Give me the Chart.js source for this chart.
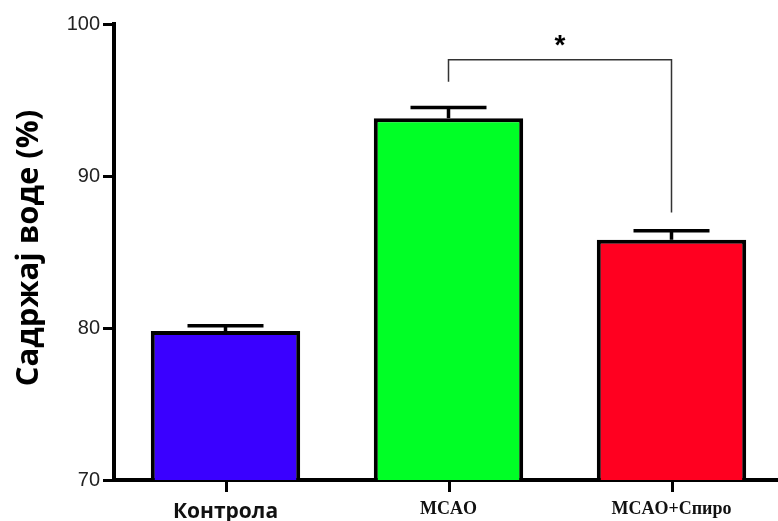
<!DOCTYPE html>
<html>
<head>
<meta charset="utf-8">
<script src="https://cdn.jsdelivr.net/npm/chart.js@4"></script>
<style>
  html, body { margin: 0; padding: 0; background: #fff; overflow: hidden; }
  #wrap { position: relative; width: 783px; height: 521px; }
</style>
</head>
<body>
<div id="wrap"><canvas id="c" width="783" height="521"></canvas></div>
<script>
// ---- data ----
const categories = ['Контрола', 'MCAO', 'MCAO+Спиро'];
const meanValues = [79.8, 93.8, 85.8];
const errorTops = [80.15, 94.5, 86.4];
const barColors = ['#3a00ff', '#00ff26', '#ff0020'];
const yTicks = [70, 80, 90, 100];
const yTitle = 'Садржај воде (%)';
// significance bracket: [fromIndex, toIndex], values [leftEnd, bar level, rightEnd]
const bracketIdx = [1, 2];
const bracketVals = [96.2, 97.65, 87.6];
const starValue = 98.85;
const starText = '*';

const overlay = {
  id: 'overlay',
  afterDatasetsDraw(chart) {
    const ctx = chart.ctx;
    const x = chart.scales.x, y = chart.scales.y;
    ctx.save();
    // x-axis tick marks at category centres
    ctx.strokeStyle = '#000';
    ctx.lineWidth = 3;
    categories.forEach((c, i) => {
      const cx = Math.round(x.getPixelForValue(i)) + 0.5;
      ctx.beginPath();
      ctx.moveTo(cx, chart.chartArea.bottom);
      ctx.lineTo(cx, chart.chartArea.bottom + 12);
      ctx.stroke();
    });
    // error bars
    ctx.lineWidth = 3.5;
    ctx.lineCap = 'butt';
    errorTops.forEach((v, i) => {
      const cx = x.getPixelForValue(i);
      const yb = y.getPixelForValue(meanValues[i]);
      const yt = y.getPixelForValue(v);
      ctx.beginPath();
      ctx.moveTo(cx, yb); ctx.lineTo(cx, yt);
      ctx.moveTo(cx - 38, yt); ctx.lineTo(cx + 38, yt);
      ctx.stroke();
    });
    // bracket
    const xl = x.getPixelForValue(bracketIdx[0]);
    const xr = x.getPixelForValue(bracketIdx[1]);
    ctx.strokeStyle = '#333';
    ctx.lineWidth = 1.5;
    ctx.beginPath();
    ctx.moveTo(xl, y.getPixelForValue(bracketVals[0]));
    ctx.lineTo(xl, y.getPixelForValue(bracketVals[1]));
    ctx.lineTo(xr, y.getPixelForValue(bracketVals[1]));
    ctx.lineTo(xr, y.getPixelForValue(bracketVals[2]));
    ctx.stroke();
    ctx.fillStyle = '#000';
    ctx.font = 'bold 28px "Liberation Sans"';
    ctx.textAlign = 'center';
    ctx.textBaseline = 'middle';
    ctx.fillText(starText, (xl + xr) / 2, y.getPixelForValue(starValue) + 5);
    // y title
    ctx.translate(29, 248);
    ctx.rotate(-Math.PI / 2);
    ctx.font = 'bold 31px "Open Sans"';
    ctx.fillStyle = '#000';
    ctx.fillText(yTitle, 0, 0);
    ctx.restore();
  }
};

new Chart(document.getElementById('c'), {
  type: 'bar',
  data: {
    labels: categories,
    datasets: [{
      data: meanValues,
      backgroundColor: barColors,
      borderColor: '#000',
      borderWidth: 4,
      borderSkipped: false,
      categoryPercentage: 1,
      barPercentage: 0.67
    }]
  },
  options: {
    responsive: false,
    animation: false,
    devicePixelRatio: 1,
    layout: { padding: { top: 24, left: 0, right: 0, bottom: 0 } },
    plugins: { legend: { display: false }, tooltip: { enabled: false } },
    scales: {
      x: {
        afterFit(s) { s.height = 41; },
        border: { display: true, color: '#000', width: 4 },
        grid: { display: false, drawTicks: true, tickLength: 11 },
        ticks: {
          color: '#111',
          padding: 8,
          font: (ctx) => ctx.index === 0
            ? { family: '"Open Sans"', size: 21, weight: 'bold' }
            : { family: '"Liberation Serif"', size: 18, weight: 'bold' }
        }
      },
      y: {
        min: 70, max: 100,
        afterFit(s) { s.width = 114; },
        afterBuildTicks(s) { s.ticks = yTicks.map(v => ({ value: v })); },
        border: { display: true, color: '#000', width: 4 },
        grid: { drawOnChartArea: false, drawTicks: true, tickLength: 11, tickWidth: 3, tickColor: '#000' },
        ticks: {
          color: '#222',
          padding: 3,
          font: { family: '"Liberation Sans"', size: 20 }
        }
      }
    }
  },
  plugins: [overlay]
});
</script>
</body>
</html>
